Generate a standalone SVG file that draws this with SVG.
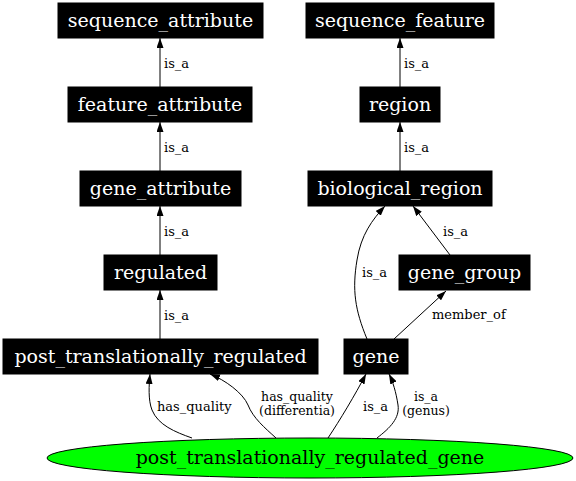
<svg xmlns="http://www.w3.org/2000/svg" width="576" height="481" viewBox="0 0 576 481">
<style>
.box{fill:#000;stroke:#000}
.nt{font-family:"DejaVu Serif",serif;font-size:19px;fill:#fff;text-anchor:middle}
.gt{font-family:"DejaVu Serif",serif;font-size:19px;fill:#000;text-anchor:middle}
.e{fill:none;stroke:#000;stroke-width:1;marker-end:url(#ah)}
.lt{font-family:"DejaVu Serif",serif;font-size:13px;fill:#000}
.lm{text-anchor:middle;font-size:12.5px}
</style>
<defs>
<marker id="ah" viewBox="0 0 10 7" refX="10" refY="3.5" markerWidth="10" markerHeight="7" markerUnits="userSpaceOnUse" orient="auto">
<path d="M0,0 L10,3.5 L0,7 z" fill="#000"/>
</marker>
</defs>
<rect width="576" height="481" fill="#fff"/>
<g id="connectors">
<path class="e" d="M160,87 L160,38"/>
<text class="lt" x="164" y="68">is_a</text>
<path class="e" d="M160,171 L160,122"/>
<text class="lt" x="164" y="152">is_a</text>
<path class="e" d="M160,255 L160,206"/>
<text class="lt" x="164" y="236">is_a</text>
<path class="e" d="M160,339 L160,290"/>
<text class="lt" x="164" y="320">is_a</text>
<path class="e" d="M400,87 L400,38"/>
<text class="lt" x="404" y="68">is_a</text>
<path class="e" d="M400,171 L400,122"/>
<text class="lt" x="404" y="152">is_a</text>
<path class="e" d="M450,255 L413,206"/>
<text class="lt" x="443" y="236">is_a</text>
<path class="e" d="M367,339 C355,310 352,290 357,260 C361,235 372,220 385,206"/>
<text class="lt" x="362" y="277">is_a</text>
<path class="e" d="M394,339 L446,291"/>
<text class="lt" x="432" y="319">member_of</text>
<path class="e" d="M192,438 C175,432 158,425 152,410 C148,400 149,385 150,374"/>
<text class="lt" x="157" y="411">has_quality</text>
<path class="e" d="M276,438 C265,428 253,418 248,405 C243,393 225,380 210,374"/>
<text class="lt lm" x="297" y="401">has_quality</text>
<text class="lt lm" x="297" y="415">(differentia)</text>
<path class="e" d="M328,438 C340,420 355,395 366,374"/>
<text class="lt" x="363" y="411">is_a</text>
<path class="e" d="M377,438 C390,428 400,418 398,405 C396,392 393,382 389,374"/>
<text class="lt lm" x="426" y="401">is_a</text>
<text class="lt lm" x="426" y="415">(genus)</text>
</g>
<g id="sequence_attribute"><rect class="box" x="58" y="3" width="205" height="35"/><text class="nt" x="160.5" y="27">sequence_attribute</text></g>
<g id="feature_attribute"><rect class="box" x="68" y="87" width="184" height="35"/><text class="nt" x="160" y="111">feature_attribute</text></g>
<g id="gene_attribute"><rect class="box" x="80" y="171" width="161" height="35"/><text class="nt" x="160.5" y="195">gene_attribute</text></g>
<g id="regulated"><rect class="box" x="104" y="255" width="113" height="35"/><text class="nt" x="160.5" y="279">regulated</text></g>
<g id="post_translationally_regulated"><rect class="box" x="3" y="339" width="315" height="35"/><text class="nt" x="160.5" y="363">post_translationally_regulated</text></g>
<g id="sequence_feature"><rect class="box" x="306" y="3" width="188" height="35"/><text class="nt" x="400" y="27">sequence_feature</text></g>
<g id="region"><rect class="box" x="360" y="87" width="80" height="35"/><text class="nt" x="400" y="111">region</text></g>
<g id="biological_region"><rect class="box" x="308" y="171" width="184" height="35"/><text class="nt" x="400" y="195">biological_region</text></g>
<g id="gene_group"><rect class="box" x="399" y="255" width="131" height="35"/><text class="nt" x="464.5" y="279">gene_group</text></g>
<g id="gene"><rect class="box" x="344" y="339" width="64" height="35"/><text class="nt" x="376" y="363">gene</text></g>
<g id="post_translationally_regulated_gene"><ellipse cx="310" cy="458" rx="263" ry="20" fill="#00ff00" stroke="#000"/><text class="gt" x="310" y="464">post_translationally_regulated_gene</text></g>
</svg>
